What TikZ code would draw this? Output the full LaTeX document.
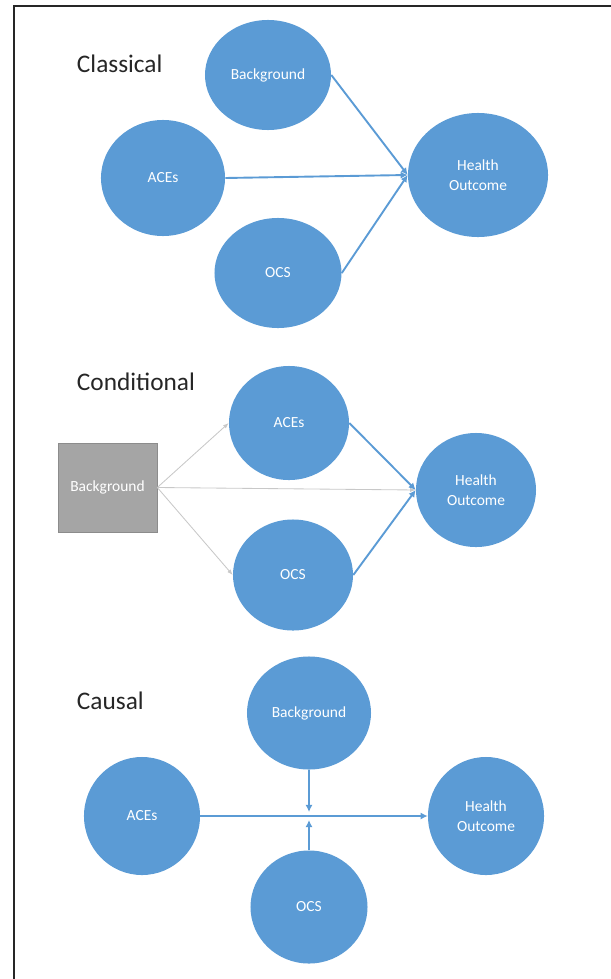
\documentclass[tikz,border=0pt]{standalone}
\usepackage{fontspec}
\setmainfont{Carlito}
\usetikzlibrary{shapes.geometric, arrows.meta}
\definecolor{factorblue}{HTML}{5B9BD5}
\definecolor{boxgray}{HTML}{A5A5A5}
\definecolor{linkgray}{HTML}{C8C8C8}
\tikzset{x=0.025cm, y=-0.025cm, % one unit is one pixel of the layout
every node/.style={font=\fontsize{11}{14}\selectfont}, % Text inside the circles
factor/.style={ % Sets the properties for each variable
ellipse, fill=factorblue, text=white, align=center, inner sep=0pt},
fixedbox/.style={ % Background as a fixed square
rectangle, fill=boxgray, draw=boxgray!85!black, line width=0.4pt, text=white, inner sep=0pt},
heading/.style={anchor=west, font=\fontsize{18}{20}\selectfont, text=black!85},
link/.style={ % Blue arrows
draw=factorblue, line width=1.35pt, -{Latex[length=5pt,width=5pt]}},
thinlink/.style={ % Gray arrows from the background
draw=linkgray, line width=0.6pt, -{Latex[length=4pt,width=3pt]}}}

\begin{document}
\begin{tikzpicture}
    \useasboundingbox (0,0) rectangle (611,979);
    \draw[line width=1.5pt, black!85] (14,979) -- (14,6) -- (611,6);

    % Classical
    \node[heading] (t1) at (72,64) {Classical};
    \node[factor, minimum width=3.15cm, minimum height=2.75cm] (bg1) at (268,75) {Background};
    \node[factor, minimum width=3.1cm, minimum height=2.9cm] (ace1) at (163,178) {ACEs};
    \node[factor, minimum width=3.175cm, minimum height=2.75cm] (ocs1) at (278,273) {OCS};
    \node[factor, minimum width=3.5cm, minimum height=3.1cm] (ho1) at (478,175) {Health\\Outcome};

    \draw (bg1.east) edge[link] (ho1.west);
    \draw (ace1.east) edge[link] (ho1.west);
    \draw (ocs1.east) edge[link] (ho1.west);

    % Conditional
    \node[heading] (t2) at (72,382) {Conditional};
    \node[fixedbox, minimum width=2.475cm, minimum height=2.225cm] (bg2) at (107.5,487.5) {Background};
    \node[factor, minimum width=3.0cm, minimum height=2.85cm] (ace2) at (289,423) {ACEs};
    \node[factor, minimum width=3.0cm, minimum height=2.775cm] (ocs2) at (293,575) {OCS};
    \node[factor, minimum width=3.0cm, minimum height=2.85cm] (ho2) at (476,490) {Health\\Outcome};

    \draw (bg2.east) edge[thinlink] (ace2.west);
    \draw (bg2.east) edge[thinlink] (ocs2.west);
    \draw (bg2.east) edge[thinlink] (ho2.west);
    \draw (ace2.east) edge[link] (ho2.west);
    \draw (ocs2.east) edge[link] (ho2.west);

    % Causal
    \node[heading] (t3) at (72,701) {Causal};
    \node[factor, minimum width=3.1cm, minimum height=2.825cm] (bg3) at (309,713) {Background};
    \node[factor, minimum width=2.9cm, minimum height=2.95cm] (ace3) at (142,816) {ACEs};
    \node[factor, minimum width=2.925cm, minimum height=2.825cm] (ocs3) at (309,907) {OCS};
    \node[factor, minimum width=2.9cm, minimum height=2.95cm] (ho3) at (486,816) {Health\\Outcome};
    \coordinate (jtop) at (309,812);
    \coordinate (jbot) at (309,820);

    \draw (ace3.east) edge[link] (ho3.west);
    \draw (bg3.south) edge[link] (jtop);
    \draw (ocs3.north) edge[link] (jbot);

\end{tikzpicture}
\end{document}
